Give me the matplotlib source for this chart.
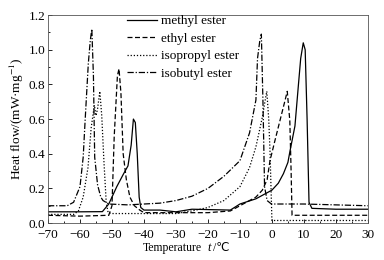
import matplotlib
matplotlib.use("Agg")
import matplotlib.pyplot as plt
from matplotlib.ticker import MultipleLocator

plt.rcParams['font.family'] = ['Liberation Serif', 'DejaVu Serif']
plt.rcParams['mathtext.fontset'] = 'stix'

# 数据：温度(℃)与热流(mW/mg)
methyl_t = [-70, -60, -53, -51, -48.5, -46.5, -45, -44, -43.3, -42.7, -42.1, -41.5, -41, -40,
            -35, -30, -25, -13, -10, -5, 0, 2, 3.6, 5, 5.7, 7.2, 8.3, 9, 9.8, 10.4, 11, 11.6, 12.5, 20, 30]
methyl_v = [0.065, 0.065, 0.066, 0.11, 0.21, 0.28, 0.33, 0.45, 0.60, 0.58, 0.40, 0.15, 0.09, 0.075,
            0.075, 0.065, 0.08, 0.075, 0.11, 0.14, 0.19, 0.23, 0.285, 0.35, 0.42, 0.56, 0.80, 0.95, 1.04, 1.0, 0.6, 0.12, 0.085, 0.08, 0.08]

ethyl_t = [-70, -60, -51, -50, -49.3, -48.3, -47.8, -47.2, -46.5, -45.5, -44.4, -43, -41.3, -40,
           -30, -20, -13, -10, -5, -3, -1.5, -0.6, 1, 2.5, 4, 4.8, 5.6, 6.0, 6.3, 10, 20, 30]
ethyl_v = [0.045, 0.04, 0.045, 0.10, 0.50, 0.85, 0.89, 0.75, 0.40, 0.25, 0.15, 0.10, 0.075, 0.06,
           0.06, 0.06, 0.07, 0.10, 0.15, 0.19, 0.25, 0.36, 0.48, 0.59, 0.70, 0.76, 0.59, 0.30, 0.045, 0.045, 0.045, 0.045]

isopropyl_t = [-70, -62, -60.5, -59, -57.5, -56.5, -55.5, -55, -54.5, -53.8, -53.2, -52.5, -51.8, -51.2,
               -50, -40, -30, -25, -20, -15, -10, -7, -5, -3, -2, -1.6, -1, -0.6, -0.2, 0, 10, 20, 30]
isopropyl_v = [0.05, 0.05, 0.07, 0.15, 0.32, 0.55, 0.68, 0.62, 0.66, 0.76, 0.62, 0.35, 0.12, 0.06,
               0.055, 0.055, 0.055, 0.07, 0.09, 0.13, 0.21, 0.32, 0.44, 0.61, 0.72, 0.76, 0.60, 0.42, 0.15, 0.015, 0.015, 0.015, 0.015]

isobutyl_t = [-70, -64, -62, -60, -59, -58.4, -57.4, -56.8, -56.3, -55.8, -55.4, -54.5, -53.5, -52.8, -51,
              -45, -40, -35, -30, -25, -20, -15, -10, -7, -5, -4.5, -3.8, -3.3, -2.8, -2.3, -1.5, -0.5, 0, 10, 20, 30]
isobutyl_v = [0.10, 0.10, 0.12, 0.21, 0.38, 0.59, 0.92, 1.05, 1.12, 0.85, 0.38, 0.22, 0.15, 0.13, 0.11,
              0.105, 0.11, 0.115, 0.13, 0.155, 0.20, 0.27, 0.36, 0.52, 0.71, 0.95, 1.05, 1.09, 0.70, 0.21, 0.13, 0.115, 0.11, 0.11, 0.105, 0.10]

series = [
    ("methyl ester", methyl_t, methyl_v, "-"),
    ("ethyl ester", ethyl_t, ethyl_v, (0, (4, 2))),
    ("isopropyl ester", isopropyl_t, isopropyl_v, (0, (1, 1.5))),
    ("isobutyl ester", isobutyl_t, isobutyl_v, (0, (5, 1.5, 1, 1.5))),
]


def plot_dsc():
    fig = plt.figure(figsize=(3.84, 2.60), dpi=100)
    ax = fig.add_axes([0.125, 0.142, 0.833, 0.8])

    for name, t, v, ls in series:
        ax.plot(t, v, color="black", linestyle=ls, linewidth=0.9, label=name)

    ax.set_xlim(-70, 30)
    ax.set_ylim(0, 1.2)
    ax.xaxis.set_major_locator(MultipleLocator(10))
    ax.xaxis.set_minor_locator(MultipleLocator(5))
    ax.yaxis.set_major_locator(MultipleLocator(0.2))
    ax.yaxis.set_minor_locator(MultipleLocator(0.1))
    ax.set_yticklabels([f"{y:.1f}" for y in ax.get_yticks()])
    ax.tick_params(which="both", direction="in", top=False, right=False, labelsize=9.5)
    ax.tick_params(axis="x", pad=4)
    ax.tick_params(axis="y", pad=2)
    ax.tick_params(which="major", length=3, width=0.6)
    ax.tick_params(which="minor", length=1.5, width=0.6)
    for sp in ax.spines.values():
        sp.set_linewidth(0.6)
        sp.set_color("#555555")

    # x轴标题：Temperature 与 斜体 t /℃ 分开放置
    ylab = 1 - 248 / 260
    fig.text(172 / 384, ylab, "Temperature", fontsize=8.5, ha="center", va="center")
    fig.text(207 / 384, ylab, "t", fontsize=9, style="italic", ha="left", va="center")
    fig.text(213 / 384, ylab, "/℃", fontsize=8.5, ha="left", va="center",
             family=["Liberation Serif", "DejaVu Sans"])
    ax.set_ylabel("Heat flow/(mW·mg$^{-1}$)", fontsize=9.5, labelpad=2)

    ax.legend(loc="upper left", bbox_to_anchor=(0.23, 1.025), frameon=False, fontsize=9.5,
              handlelength=2.3, handletextpad=0.3, labelspacing=0.4, borderaxespad=0)

    fig.savefig("out.png", dpi=100)


if __name__ == "__main__":
    plot_dsc()
